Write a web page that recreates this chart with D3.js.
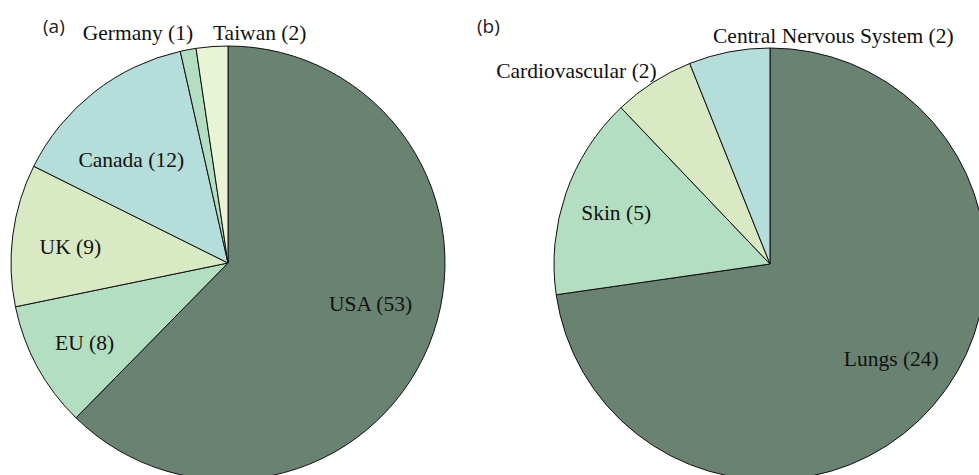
<!DOCTYPE html>
<html>
<head>
<meta charset="utf-8">
<script src="https://cdn.jsdelivr.net/npm/d3@7"></script>
<style>
  body { margin: 0; background: #fff; }
  svg { display: block; }
</style>
</head>
<body>
<div id="chart"></div>
<script>
// panel (a): by country
var countries = ["USA", "EU", "UK", "Canada", "Germany", "Taiwan"];
var countryCounts = [53, 8, 9, 12, 1, 2];

// panel (b): by organ
var organs = ["Lungs", "Skin", "Cardiovascular", "Central Nervous System"];
var organCounts = [24, 5, 2, 2];

var colA = ["#6a8272", "#b3dec1", "#d9e9c3", "#b5ddda", "#b3dec1", "#e9f4d4"];
var colB = ["#6a8272", "#b3dec1", "#d9e9c3", "#b5ddda"];

// where each label goes: "in" = inside ring, "top" = above the pie, "out" = by the slice's end on the rim
var labelLayout = {
    "USA": { ring: "in", anchor: "middle", dx: 2, dy: -17 },
    "EU": { ring: "in", anchor: "middle", dx: -10, dy: 7 },
    "UK": { ring: "in", anchor: "middle", dx: -7, dy: 3 },
    "Canada": { ring: "in", anchor: "middle", dx: -3, dy: 16 },
    "Germany": { ring: "top", anchor: "end", dx: 5, dy: 0 },
    "Taiwan": { ring: "top", anchor: "start", dx: 1, dy: 0 },
    "Lungs": { ring: "in", anchor: "middle", dx: 7, dy: -5 },
    "Skin": { ring: "in", anchor: "middle", dx: -11, dy: -2 },
    "Cardiovascular": { ring: "out", anchor: "end", dx: -33, dy: 7 },
    "Central Nervous System": { ring: "out", anchor: "start", dx: -57, dy: -13 }
};

var width = 979, height = 475;

var svg = d3.select("#chart")
    .append("svg")
    .attr("width", width)
    .attr("height", height);

function drawPie(names, counts, colours, cx, cy, r, tag, tagX) {
    var data = names.map(function(n, i) { return { name: n, value: counts[i] }; });

    var pie = d3.pie()
        .sort(null)
        .value(function(d) { return d.value; });

    var arc = d3.arc().innerRadius(0).outerRadius(r);
    var inner = d3.arc().innerRadius(r * 0.7).outerRadius(r * 0.7);
    var rim = d3.arc().innerRadius(r).outerRadius(r);

    var g = svg.append("g")
        .attr("transform", "translate(" + cx + "," + cy + ")");

    var arcs = pie(data);

    g.selectAll("path")
        .data(arcs)
        .enter()
        .append("path")
        .attr("d", arc)
        .attr("fill", function(d, i) { return colours[i]; })
        .attr("stroke", "#111")
        .attr("stroke-width", 1)
        .attr("stroke-linejoin", "round");

    g.selectAll("text.lbl")
        .data(arcs)
        .enter()
        .append("text")
        .attr("class", "lbl")
        .attr("transform", function(d) {
            var L = labelLayout[d.data.name];
            var p;
            if (L.ring == "in") {
                p = inner.centroid(d);
            } else if (L.ring == "top") {
                p = rim.centroid(d);
                p = [p[0], -r - 14];
            } else {
                // point where the slice ends on the rim
                var a = d.endAngle;
                p = [Math.sin(a) * r, -Math.cos(a) * r];
            }
            return "translate(" + (p[0] + L.dx) + "," + (p[1] + L.dy) + ")";
        })
        .attr("dy", "0.35em")
        .attr("text-anchor", function(d) { return labelLayout[d.data.name].anchor; })
        .style("font-family", "'Liberation Serif', 'Times New Roman', serif")
        .style("font-size", "21.5px")
        .attr("fill", "#111")
        .text(function(d) { return d.data.name + " (" + d.data.value + ")"; });

    svg.append("text")
        .attr("x", tagX)
        .attr("y", 33)
        .style("font-family", "'Open Sans', sans-serif")
        .style("font-size", "19px")
        .attr("fill", "#222")
        .text(tag);
}

drawPie(countries, countryCounts, colA, 228, 263, 217, "(a)", 43);
drawPie(organs, organCounts, colB, 770, 264, 216, "(b)", 477);
</script>
</body>
</html>
